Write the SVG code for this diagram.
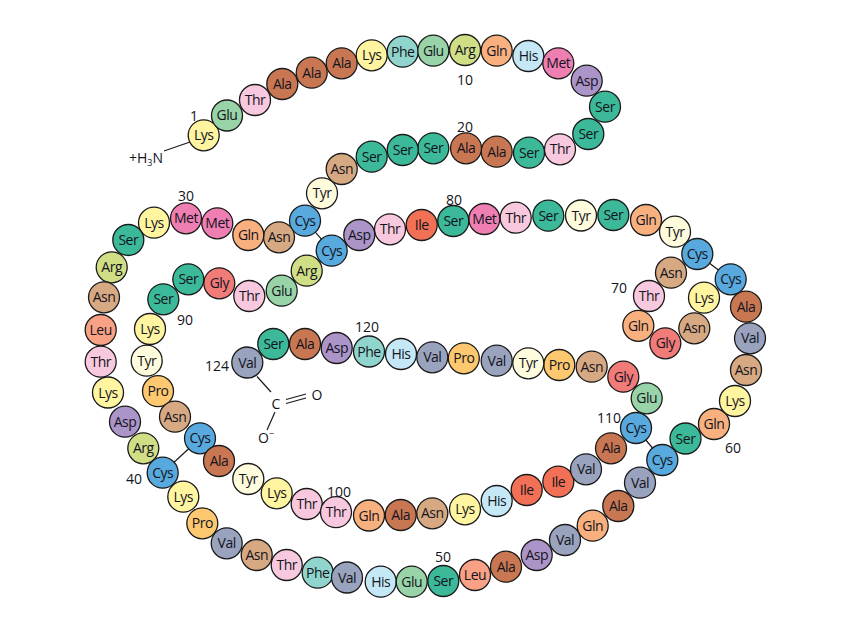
<svg xmlns="http://www.w3.org/2000/svg" width="854" height="641" viewBox="0 0 854 641">
<style>
circle{stroke:#1a1a1a;stroke-width:1.3}
text{font-family:"Open Sans","Liberation Sans",sans-serif;font-size:14px;letter-spacing:-0.5px;fill:#141420;text-anchor:middle}
.n{font-size:14px;letter-spacing:0}
.ln{stroke:#1a1a1a;stroke-width:1.2;fill:none}
.Lys{fill:#fff5a0}.Glu{fill:#98d4a8}.Thr{fill:#f8c8de}.Ala{fill:#c97752}.Phe{fill:#90d5cd}.Arg{fill:#d0df86}.Gln{fill:#f9b07f}.His{fill:#c5e8f7}.Met{fill:#ef7fb2}.Asp{fill:#ab94c8}.Ser{fill:#3bb999}.Asn{fill:#d6a983}.Tyr{fill:#fffbdd}.Cys{fill:#58a9de}.Leu{fill:#f9a184}.Pro{fill:#fdc86f}.Val{fill:#9aa3bd}.Gly{fill:#f17b79}.Ile{fill:#f27055}
</style>
<g id="connectors">
<line class="ln" x1="164" y1="151" x2="190" y2="142"/>
<line class="ln" x1="305" y1="220.7" x2="331.7" y2="250.7"/>
<line class="ln" x1="162.7" y1="472.7" x2="200" y2="438.3"/>
<line class="ln" x1="697.3" y1="254" x2="730.7" y2="279.3"/>
<line class="ln" x1="636" y1="428" x2="662.3" y2="460"/>
<line class="ln" x1="257" y1="376.5" x2="271" y2="392"/>
<line class="ln" x1="286" y1="399.5" x2="306" y2="394"/>
<line class="ln" x1="286" y1="403.5" x2="306" y2="398"/>
<line class="ln" x1="275" y1="412" x2="267" y2="430"/>
</g>
<g id="termini">
<text class="n" x="146" y="163">+H<tspan font-size="9" dy="3">3</tspan><tspan dy="-3">N</tspan></text>
<text class="n" x="276" y="409">C</text>
<text class="n" x="317" y="400">O</text>
<text class="n" x="266" y="443">O<tspan font-size="9" dy="-6">−</tspan></text>
</g>
<g id="numbers">
<text class="n" x="194" y="121">1</text>
<text class="n" x="465" y="85">10</text>
<text class="n" x="465" y="132">20</text>
<text class="n" x="186" y="201">30</text>
<text class="n" x="134" y="484">40</text>
<text class="n" x="443" y="562">50</text>
<text class="n" x="733" y="453">60</text>
<text class="n" x="619" y="293">70</text>
<text class="n" x="454" y="205">80</text>
<text class="n" x="185" y="325">90</text>
<text class="n" x="339" y="497">100</text>
<text class="n" x="609" y="423">110</text>
<text class="n" x="367" y="332">120</text>
<text class="n" x="217" y="371">124</text>
</g>
<g id="r1"><circle class="Lys" cx="203.7" cy="135.3" r="15.5"/><text x="203.7" y="140">Lys</text></g>
<g id="r2"><circle class="Glu" cx="227" cy="115.5" r="15.5"/><text x="227" y="120">Glu</text></g>
<g id="r3"><circle class="Thr" cx="255" cy="100" r="15.5"/><text x="255" y="105">Thr</text></g>
<g id="r4"><circle class="Ala" cx="282.3" cy="84" r="15.5"/><text x="282.3" y="89">Ala</text></g>
<g id="r5"><circle class="Ala" cx="311.7" cy="72.7" r="15.5"/><text x="311.7" y="77.5">Ala</text></g>
<g id="r6"><circle class="Ala" cx="341.7" cy="63.3" r="15.5"/><text x="341.7" y="68">Ala</text></g>
<g id="r7"><circle class="Lys" cx="371.7" cy="55.3" r="15.5"/><text x="371.7" y="60">Lys</text></g>
<g id="r8"><circle class="Phe" cx="402.7" cy="51.7" r="15.5"/><text x="402.7" y="56.5">Phe</text></g>
<g id="r9"><circle class="Glu" cx="433.3" cy="50.7" r="15.5"/><text x="433.3" y="55.5">Glu</text></g>
<g id="r10"><circle class="Arg" cx="465" cy="50" r="15.5"/><text x="465" y="55">Arg</text></g>
<g id="r11"><circle class="Gln" cx="496.7" cy="50.7" r="15.5"/><text x="496.7" y="55.5">Gln</text></g>
<g id="r12"><circle class="His" cx="528.3" cy="56" r="15.5"/><text x="528.3" y="61">His</text></g>
<g id="r13"><circle class="Met" cx="558.3" cy="63.3" r="15.5"/><text x="558.3" y="68">Met</text></g>
<g id="r14"><circle class="Asp" cx="586.7" cy="80.7" r="15.5"/><text x="586.7" y="85.5">Asp</text></g>
<g id="r15"><circle class="Ser" cx="605" cy="106.7" r="15.5"/><text x="605" y="111.5">Ser</text></g>
<g id="r16"><circle class="Ser" cx="588.3" cy="134" r="15.5"/><text x="588.3" y="139">Ser</text></g>
<g id="r17"><circle class="Thr" cx="560" cy="149.3" r="15.5"/><text x="560" y="154">Thr</text></g>
<g id="r18"><circle class="Ser" cx="529" cy="152.7" r="15.5"/><text x="529" y="157.5">Ser</text></g>
<g id="r19"><circle class="Ala" cx="496.7" cy="151.7" r="15.5"/><text x="496.7" y="156.5">Ala</text></g>
<g id="r20"><circle class="Ala" cx="466" cy="148.3" r="15.5"/><text x="466" y="153">Ala</text></g>
<g id="r21"><circle class="Ser" cx="433.3" cy="148.3" r="15.5"/><text x="433.3" y="153">Ser</text></g>
<g id="r22"><circle class="Ser" cx="402.7" cy="150" r="15.5"/><text x="402.7" y="155">Ser</text></g>
<g id="r23"><circle class="Ser" cx="371.7" cy="156.7" r="15.5"/><text x="371.7" y="161.5">Ser</text></g>
<g id="r24"><circle class="Asn" cx="341.7" cy="169" r="15.5"/><text x="341.7" y="174">Asn</text></g>
<g id="r25"><circle class="Tyr" cx="322" cy="193.3" r="15.5"/><text x="322" y="198">Tyr</text></g>
<g id="r26"><circle class="Cys" cx="305" cy="220.7" r="15.5"/><text x="305" y="225.5">Cys</text></g>
<g id="r27"><circle class="Asn" cx="279" cy="237.3" r="15.5"/><text x="279" y="242">Asn</text></g>
<g id="r28"><circle class="Gln" cx="248.3" cy="235" r="15.5"/><text x="248.3" y="240">Gln</text></g>
<g id="r29"><circle class="Met" cx="217.3" cy="223.3" r="15.5"/><text x="217.3" y="228">Met</text></g>
<g id="r30"><circle class="Met" cx="186" cy="218.3" r="15.5"/><text x="186" y="223">Met</text></g>
<g id="r31"><circle class="Lys" cx="154" cy="222.7" r="15.5"/><text x="154" y="227.5">Lys</text></g>
<g id="r32"><circle class="Ser" cx="128.3" cy="240" r="15.5"/><text x="128.3" y="245">Ser</text></g>
<g id="r33"><circle class="Arg" cx="111.7" cy="267.3" r="15.5"/><text x="111.7" y="272">Arg</text></g>
<g id="r34"><circle class="Asn" cx="104" cy="297.3" r="15.5"/><text x="104" y="302">Asn</text></g>
<g id="r35"><circle class="Leu" cx="100.7" cy="330" r="15.5"/><text x="100.7" y="335">Leu</text></g>
<g id="r36"><circle class="Thr" cx="100.7" cy="361.7" r="15.5"/><text x="100.7" y="366.5">Thr</text></g>
<g id="r37"><circle class="Lys" cx="108" cy="392.5" r="15.5"/><text x="108" y="397.5">Lys</text></g>
<g id="r38"><circle class="Asp" cx="125" cy="421.7" r="15.5"/><text x="125" y="426.5">Asp</text></g>
<g id="r39"><circle class="Arg" cx="143.3" cy="448.3" r="15.5"/><text x="143.3" y="453">Arg</text></g>
<g id="r40"><circle class="Cys" cx="162.7" cy="472.7" r="15.5"/><text x="162.7" y="477.5">Cys</text></g>
<g id="r41"><circle class="Lys" cx="183.3" cy="496.7" r="15.5"/><text x="183.3" y="501.5">Lys</text></g>
<g id="r42"><circle class="Pro" cx="202.3" cy="523.3" r="15.5"/><text x="202.3" y="528">Pro</text></g>
<g id="r43"><circle class="Val" cx="226.7" cy="543.3" r="15.5"/><text x="226.7" y="548">Val</text></g>
<g id="r44"><circle class="Asn" cx="256.7" cy="555" r="15.5"/><text x="256.7" y="560">Asn</text></g>
<g id="r45"><circle class="Thr" cx="286.7" cy="565" r="15.5"/><text x="286.7" y="570">Thr</text></g>
<g id="r46"><circle class="Phe" cx="317.7" cy="572.7" r="15.5"/><text x="317.7" y="577.5">Phe</text></g>
<g id="r47"><circle class="Val" cx="347" cy="577.5" r="15.5"/><text x="347" y="582.5">Val</text></g>
<g id="r48"><circle class="His" cx="380.7" cy="581.7" r="15.5"/><text x="380.7" y="586.5">His</text></g>
<g id="r49"><circle class="Glu" cx="411.7" cy="581.7" r="15.5"/><text x="411.7" y="586.5">Glu</text></g>
<g id="r50"><circle class="Ser" cx="443.3" cy="581" r="15.5"/><text x="443.3" y="586">Ser</text></g>
<g id="r51"><circle class="Leu" cx="475" cy="575" r="15.5"/><text x="475" y="580">Leu</text></g>
<g id="r52"><circle class="Ala" cx="506" cy="566.7" r="15.5"/><text x="506" y="571.5">Ala</text></g>
<g id="r53"><circle class="Asp" cx="536.7" cy="555" r="15.5"/><text x="536.7" y="560">Asp</text></g>
<g id="r54"><circle class="Val" cx="565" cy="540" r="15.5"/><text x="565" y="545">Val</text></g>
<g id="r55"><circle class="Gln" cx="592.7" cy="525.7" r="15.5"/><text x="592.7" y="530.5">Gln</text></g>
<g id="r56"><circle class="Ala" cx="618.3" cy="506" r="15.5"/><text x="618.3" y="511">Ala</text></g>
<g id="r57"><circle class="Val" cx="640" cy="482.7" r="15.5"/><text x="640" y="487.5">Val</text></g>
<g id="r58"><circle class="Cys" cx="662.3" cy="460" r="15.5"/><text x="662.3" y="465">Cys</text></g>
<g id="r59"><circle class="Ser" cx="685.5" cy="438.5" r="15.5"/><text x="685.5" y="443.5">Ser</text></g>
<g id="r60"><circle class="Gln" cx="714" cy="424" r="15.5"/><text x="714" y="429">Gln</text></g>
<g id="r61"><circle class="Lys" cx="735" cy="401" r="15.5"/><text x="735" y="406">Lys</text></g>
<g id="r62"><circle class="Asn" cx="746" cy="370" r="15.5"/><text x="746" y="375">Asn</text></g>
<g id="r63"><circle class="Val" cx="750" cy="338.3" r="15.5"/><text x="750" y="343">Val</text></g>
<g id="r64"><circle class="Ala" cx="746" cy="306.7" r="15.5"/><text x="746" y="311.5">Ala</text></g>
<g id="r65"><circle class="Cys" cx="730.7" cy="279.3" r="15.5"/><text x="730.7" y="284">Cys</text></g>
<g id="r66"><circle class="Lys" cx="704" cy="297.7" r="15.5"/><text x="704" y="302.5">Lys</text></g>
<g id="r67"><circle class="Asn" cx="694.3" cy="328.3" r="15.5"/><text x="694.3" y="333">Asn</text></g>
<g id="r68"><circle class="Gly" cx="665.3" cy="343.3" r="15.5"/><text x="665.3" y="348">Gly</text></g>
<g id="r69"><circle class="Gln" cx="638.3" cy="325.8" r="15.5"/><text x="638.3" y="330.5">Gln</text></g>
<g id="r70"><circle class="Thr" cx="649" cy="296" r="15.5"/><text x="649" y="301">Thr</text></g>
<g id="r71"><circle class="Asn" cx="671" cy="272.7" r="15.5"/><text x="671" y="277.5">Asn</text></g>
<g id="r72"><circle class="Cys" cx="697.3" cy="254" r="15.5"/><text x="697.3" y="259">Cys</text></g>
<g id="r73"><circle class="Tyr" cx="675" cy="231.7" r="15.5"/><text x="675" y="236.5">Tyr</text></g>
<g id="r74"><circle class="Gln" cx="646" cy="220" r="15.5"/><text x="646" y="225">Gln</text></g>
<g id="r75"><circle class="Ser" cx="613.3" cy="215" r="15.5"/><text x="613.3" y="220">Ser</text></g>
<g id="r76"><circle class="Tyr" cx="581" cy="215.5" r="15.5"/><text x="581" y="220.5">Tyr</text></g>
<g id="r77"><circle class="Ser" cx="548.3" cy="215.7" r="15.5"/><text x="548.3" y="220.5">Ser</text></g>
<g id="r78"><circle class="Thr" cx="515.7" cy="217.7" r="15.5"/><text x="515.7" y="222.5">Thr</text></g>
<g id="r79"><circle class="Met" cx="484.3" cy="219" r="15.5"/><text x="484.3" y="224">Met</text></g>
<g id="r80"><circle class="Ser" cx="453.3" cy="221" r="15.5"/><text x="453.3" y="226">Ser</text></g>
<g id="r81"><circle class="Ile" cx="421.7" cy="225" r="15.5"/><text x="421.7" y="230">Ile</text></g>
<g id="r82"><circle class="Thr" cx="390" cy="229.3" r="15.5"/><text x="390" y="234">Thr</text></g>
<g id="r83"><circle class="Asp" cx="359.3" cy="235" r="15.5"/><text x="359.3" y="240">Asp</text></g>
<g id="r84"><circle class="Cys" cx="331.7" cy="250.7" r="15.5"/><text x="331.7" y="255.5">Cys</text></g>
<g id="r85"><circle class="Arg" cx="306.7" cy="270.7" r="15.5"/><text x="306.7" y="275.5">Arg</text></g>
<g id="r86"><circle class="Glu" cx="281.7" cy="290.7" r="15.5"/><text x="281.7" y="295.5">Glu</text></g>
<g id="r87"><circle class="Thr" cx="249.3" cy="296" r="15.5"/><text x="249.3" y="301">Thr</text></g>
<g id="r88"><circle class="Gly" cx="219.3" cy="283.3" r="15.5"/><text x="219.3" y="288">Gly</text></g>
<g id="r89"><circle class="Ser" cx="188.3" cy="279.3" r="15.5"/><text x="188.3" y="284">Ser</text></g>
<g id="r90"><circle class="Ser" cx="163.3" cy="299.3" r="15.5"/><text x="163.3" y="304">Ser</text></g>
<g id="r91"><circle class="Lys" cx="150" cy="329" r="15.5"/><text x="150" y="334">Lys</text></g>
<g id="r92"><circle class="Tyr" cx="146.7" cy="360.7" r="15.5"/><text x="146.7" y="365.5">Tyr</text></g>
<g id="r93"><circle class="Pro" cx="158" cy="391.2" r="15.5"/><text x="158" y="396">Pro</text></g>
<g id="r94"><circle class="Asn" cx="175" cy="416.7" r="15.5"/><text x="175" y="421.5">Asn</text></g>
<g id="r95"><circle class="Cys" cx="200" cy="438.3" r="15.5"/><text x="200" y="443">Cys</text></g>
<g id="r96"><circle class="Ala" cx="219" cy="461" r="15.5"/><text x="219" y="466">Ala</text></g>
<g id="r97"><circle class="Tyr" cx="248.3" cy="479" r="15.5"/><text x="248.3" y="484">Tyr</text></g>
<g id="r98"><circle class="Lys" cx="276.7" cy="493.3" r="15.5"/><text x="276.7" y="498">Lys</text></g>
<g id="r99"><circle class="Thr" cx="306.7" cy="504" r="15.5"/><text x="306.7" y="509">Thr</text></g>
<g id="r100"><circle class="Thr" cx="336" cy="512.2" r="15.5"/><text x="336" y="517">Thr</text></g>
<g id="r101"><circle class="Gln" cx="369" cy="515.5" r="15.5"/><text x="369" y="520.5">Gln</text></g>
<g id="r102"><circle class="Ala" cx="400.7" cy="515" r="15.5"/><text x="400.7" y="520">Ala</text></g>
<g id="r103"><circle class="Asn" cx="432.3" cy="513.3" r="15.5"/><text x="432.3" y="518">Asn</text></g>
<g id="r104"><circle class="Lys" cx="465" cy="509.3" r="15.5"/><text x="465" y="514">Lys</text></g>
<g id="r105"><circle class="His" cx="496.7" cy="501" r="15.5"/><text x="496.7" y="506">His</text></g>
<g id="r106"><circle class="Ile" cx="526.7" cy="490" r="15.5"/><text x="526.7" y="495">Ile</text></g>
<g id="r107"><circle class="Ile" cx="558.3" cy="481.7" r="15.5"/><text x="558.3" y="486.5">Ile</text></g>
<g id="r108"><circle class="Val" cx="586" cy="469.3" r="15.5"/><text x="586" y="474">Val</text></g>
<g id="r109"><circle class="Ala" cx="611" cy="448.3" r="15.5"/><text x="611" y="453">Ala</text></g>
<g id="r110"><circle class="Cys" cx="636" cy="428" r="15.5"/><text x="636" y="433">Cys</text></g>
<g id="r111"><circle class="Glu" cx="646.7" cy="398.3" r="15.5"/><text x="646.7" y="403">Glu</text></g>
<g id="r112"><circle class="Gly" cx="623.3" cy="376.7" r="15.5"/><text x="623.3" y="381.5">Gly</text></g>
<g id="r113"><circle class="Asn" cx="591.7" cy="366.7" r="15.5"/><text x="591.7" y="371.5">Asn</text></g>
<g id="r114"><circle class="Pro" cx="559.3" cy="365" r="15.5"/><text x="559.3" y="370">Pro</text></g>
<g id="r115"><circle class="Tyr" cx="528.3" cy="363.3" r="15.5"/><text x="528.3" y="368">Tyr</text></g>
<g id="r116"><circle class="Val" cx="496.7" cy="360.7" r="15.5"/><text x="496.7" y="365.5">Val</text></g>
<g id="r117"><circle class="Pro" cx="463.8" cy="358.3" r="15.5"/><text x="463.8" y="363">Pro</text></g>
<g id="r118"><circle class="Val" cx="432.3" cy="357.3" r="15.5"/><text x="432.3" y="362">Val</text></g>
<g id="r119"><circle class="His" cx="401" cy="354" r="15.5"/><text x="401" y="359">His</text></g>
<g id="r120"><circle class="Phe" cx="369" cy="351.5" r="15.5"/><text x="369" y="356.5">Phe</text></g>
<g id="r121"><circle class="Asp" cx="336.7" cy="348" r="15.5"/><text x="336.7" y="353">Asp</text></g>
<g id="r122"><circle class="Ala" cx="305" cy="344" r="15.5"/><text x="305" y="349">Ala</text></g>
<g id="r123"><circle class="Ser" cx="273.3" cy="344" r="15.5"/><text x="273.3" y="349">Ser</text></g>
<g id="r124"><circle class="Val" cx="247.3" cy="362.5" r="15.5"/><text x="247.3" y="367.5">Val</text></g>
</svg>
